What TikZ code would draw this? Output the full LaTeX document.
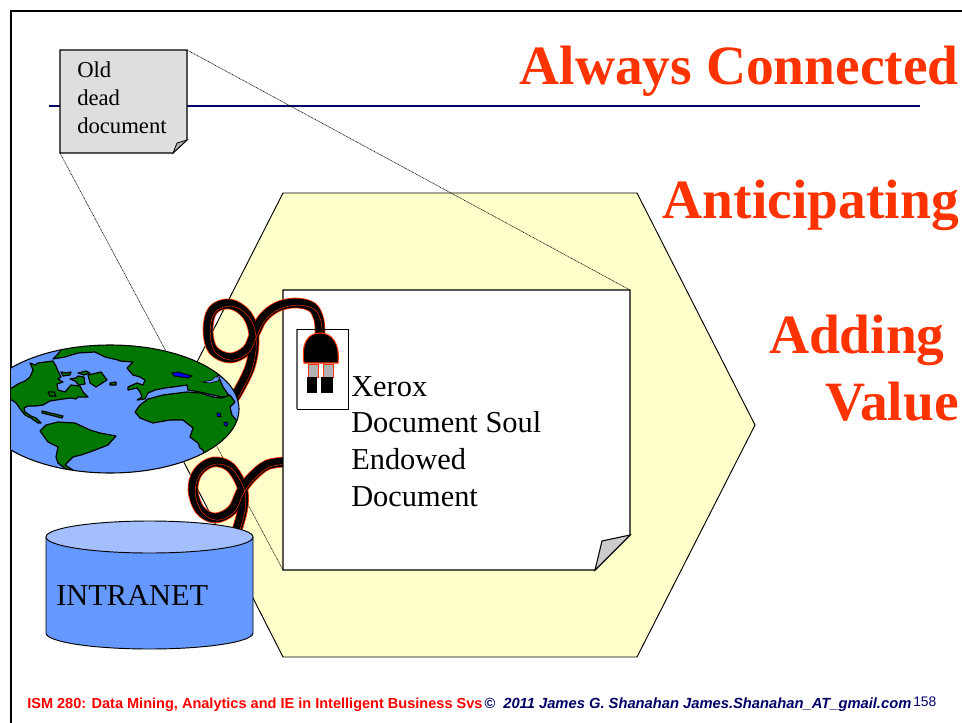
\documentclass[tikz,border=0pt]{standalone}
\usepackage{fontspec}
\setmainfont{Liberation Serif}
\newfontfamily\footfont{Liberation Sans}
\usetikzlibrary{positioning, calc}
\definecolor{hexfill}{HTML}{FFFFCC}
\definecolor{seablue}{HTML}{6699FF}
\definecolor{landgreen}{HTML}{007700}
\definecolor{lakeblue}{HTML}{0000EE}
\definecolor{cyltop}{HTML}{A3BFFF}
\definecolor{titlered}{HTML}{FF3300}
\definecolor{navyline}{HTML}{000066}
\tikzset{title/.style={font=\bfseries\fontsize{41.6}{46}\selectfont,text=titlered,inner sep=0pt},
         body/.style={font=\fontsize{22.8}{27.7}\selectfont,align=left,inner sep=0pt,text=black},
         oldtext/.style={font=\fontsize{17}{21}\selectfont,align=left,inner sep=0pt,text=black},
         foot/.style={font=\footfont\bfseries\fontsize{10.9}{13}\selectfont,inner sep=0pt},
         paper/.style={draw=black,line width=0.8pt,line join=miter},
         sight/.style={draw=black,line width=0.45pt,dash pattern=on 0.7pt off 0.5pt},
         land/.style={fill=landgreen,draw=black,line width=0.9pt,line join=round},
         lake/.style={fill=lakeblue,draw=black,line width=0.7pt},
         wire/.style={line cap=round,line join=round}}
% power cable: orange rim, black core, thin orange seam
\newcommand{\cablepath}[1]{%
  \draw[wire,titlered,line width=8pt] plot[smooth,tension=0.6] coordinates {#1};
  \draw[wire,black,line width=6.8pt] plot[smooth,tension=0.6] coordinates {#1};
  \draw[wire,titlered,line width=0.35pt,shift={(2.2,2.2)}] plot[smooth,tension=0.6] coordinates {#1};
}
\begin{document}
\begin{tikzpicture}[x=0.75pt,y=-0.75pt]
    \useasboundingbox (0,0) rectangle (962,723);
    % Slide frame and rule under the title
    \coordinate (framebl) at (11,723);
    \coordinate (frametl) at (11,11);
    \coordinate (frametr) at (962,11);
    \draw[black,line width=1.9pt] (framebl) -- (frametl) -- (frametr);
    \coordinate (ruleL) at (49,106);
    \coordinate (ruleR) at (920,106);
    \draw[navyline,line width=1.2pt] (ruleL) -- (ruleR);
    % Hexagon
    \draw[fill=hexfill,line width=0.7pt] (283,193) -- (637,193) -- (755,425) -- (637,657) -- (283,657) -- (165,425) -- cycle;
    % Corners of both documents
    \coordinate (oldtl) at (60,50);
    \coordinate (oldtr) at (187,50);
    \coordinate (oldbl) at (60,153);
    \coordinate (doctl) at (283,290);
    \coordinate (doctr) at (630,290);
    \coordinate (docbl) at (283,570);
    % Lines of sight
    \draw[sight] (oldtr) -- (doctr);
    \draw[sight] (oldbl) -- (docbl);
    % Lower cable, runs behind the document
    \cablepath{(237,530) (243,507) (242,487) (230,467) (213,462) (198,472) (193,490) (200,510) (215,518) (232,510) (242,490) (252,477) (267,465) (285,462)}
    % Document
    \draw[paper,fill=white] (doctl) -- (doctr) -- (630,535) -- (595,570) -- (docbl) -- cycle;
    \draw[paper,fill=black!20] (630,535) -- (602,541) -- (595,570) -- cycle;
    % Upper cable
    \cablepath{(235,397) (250,367) (254,337) (247,315) (230,304) (213,310) (208,330) (213,350) (230,358) (247,350) (255,333) (263,318) (277,307) (295,303) (312,307) (319,320) (320,335)}
    % Plug
    \draw[draw=black!60,line width=0.9pt] (297,329) -- (297,409);
    \draw[black,line width=0.5pt] (297,409) -- (348,409) -- (348,329) -- (297,329);
    \draw[fill=black!30,draw=titlered,line width=0.7pt] (308,364) rectangle (318,377);
    \draw[fill=black!30,draw=titlered,line width=0.7pt] (323,364) rectangle (333,377);
    \fill[black] (307,377) rectangle (317,393);
    \fill[black] (321,377) rectangle (333,393);
    \draw[fill=black,draw=titlered,line width=0.8pt] (304,363) .. controls (301,343) and (308,333) .. (320,333) .. controls (332,333) and (340,343) .. (338,363) -- cycle;
    % Globe
    \begin{scope}
      \clip (11,300) rectangle (300,500);
      \begin{scope}
        \clip (110,409) ellipse [x radius=129, y radius=64];
        \fill[seablue] (-30,340) rectangle (245,480);
        % Arctic, Europe and Asia
        \draw[land] (53,359) -- (58,354) -- (62,348) -- (60,335) -- (235,335) -- (225,370) -- (217,376) -- (220,380) -- (223,387) -- (230,397) -- (222,397) -- (213,395) -- (200,392) -- (188,390) -- (187,385) -- (173,387) -- (165,388) -- (155,390) -- (148,393) -- (145,399) -- (137,400) -- (142,397) -- (140,392) -- (137,388) -- (128,390) -- (128,387) -- (137,383) -- (143,385) -- (145,380) -- (140,377) -- (133,375) -- (127,368) -- (133,362) -- (120,361) -- (118,360) -- (105,357) -- (95,352) -- (78,353) -- (65,357) -- cycle;
        \draw[fill=seablue,draw=black,line width=0.5pt] (202,382) -- (212,380) -- (215,377) -- (220,377) -- (218,381) -- (210,383) -- cycle;
        % Africa
        \draw[land] (135,412) -- (140,405) -- (148,399) -- (163,395) -- (187,392) -- (200,393) -- (213,397) -- (222,398) -- (230,395) -- (235,402) -- (230,407) -- (232,415) -- (237,421) -- (245,440) -- (210,470) -- (203,450) -- (200,448) -- (198,443) -- (190,437) -- (193,428) -- (183,420) -- (170,420) -- (153,423) -- (140,418) -- cycle;
        % North America
        \draw[land] (0,380) -- (12,388) -- (18,384) -- (25,381) -- (30,377) -- (33,370) -- (30,363) -- (35,365) -- (38,363) -- (45,362) -- (53,361) -- (56,366) -- (58,371) -- (61,377) -- (58,379) -- (63,382) -- (57,384) -- (58,390) -- (65,392) -- (71,385) -- (80,386) -- (83,392) -- (88,397) -- (78,397) -- (76,399) -- (71,398) -- (63,399) -- (50,401) -- (43,405) -- (36,406) -- (28,406) -- (24,408) -- (25,412) -- (31,416) -- (36,418) -- (41,423) -- (38,423) -- (31,418) -- (25,415) -- (21,410) -- (16,403) -- (12,400) -- (0,400) -- cycle;
        % South America
        \draw[land] (40,431) -- (46,425) -- (58,422) -- (75,423) -- (90,430) -- (100,433) -- (116,436) -- (108,445) -- (90,452) -- (81,455) -- (73,457) -- (65,465) -- (73,470) -- (66,469) -- (58,463) -- (56,457) -- (58,447) -- (48,442) -- cycle;
        % Islands
        \draw[land] (88,375) -- (101,372) -- (107,380) -- (96,387) -- (90,383) -- cycle;
        \draw[land] (110,383) -- (116,382) -- (116,385) -- (110,385) -- cycle;
        \draw[land] (42,411) -- (63,416) -- (62,418) -- (42,413) -- cycle;
        \draw[land] (61,372) -- (66,373) -- (71,372) -- (70,375) -- (63,376) -- cycle;
        \draw[land] (70,379) -- (76,378) -- (78,376) -- (84,377) -- (85,384) -- (79,385) -- (75,381) -- cycle;
        \draw[land] (78,373) -- (86,371) -- (90,373) -- (84,375) -- cycle;
        \draw[land] (48,392) -- (54,392) -- (56,396) -- (50,396) -- cycle;
        % Lakes
        \draw[lake] (172,373) -- (178,372) -- (192,376) -- (188,378) -- (174,376) -- cycle;
        \draw[lake] (217,413) -- (220,413) -- (221,417) -- (217,416) -- cycle;
        \draw[lake] (224,422) -- (228,423) -- (227,426) -- (224,425) -- cycle;
      \end{scope}
      \draw[black,line width=0.8pt] (110,409) ellipse [x radius=129, y radius=64];
    \end{scope}
    % Intranet cylinder
    \draw[fill=seablue,line width=0.7pt] (46,537) -- (46,633) arc [start angle=180, end angle=360, x radius=103.5, y radius=-16] -- (253,537) -- cycle;
    \draw[fill=cyltop,line width=0.7pt] (149.5,537) ellipse [x radius=103.5, y radius=16];
    % Old document
    \draw[paper,fill=black!13] (oldtl) -- (oldtr) -- (187,140) -- (173,153) -- (oldbl) -- cycle;
    \draw[paper,fill=black!30,line width=0.6pt] (187,140) -- (177,143) -- (173,153) -- cycle;
    % Labels
    \node[title,anchor=base east] (always) at (959,85) {Always Connected};
    \node[title,anchor=base east] (anticipating) at (959,219) {Anticipating};
    \node[title,anchor=base east] (adding) at (945,353) {Adding};
    \node[title,anchor=base east] (value) at (959,420) {Value};
    \node[oldtext,anchor=base west] (oldl1) at (77,78) {Old};
    \node[oldtext,anchor=base west] (oldl2) at (77,106) {dead};
    \node[oldtext,anchor=base west] (oldl3) at (77,134) {document};
    \node[body,anchor=base west] (doc1) at (351,396) {Xerox};
    \node[body,anchor=base west] (doc2) at (351,432) {Document Soul};
    \node[body,anchor=base west] (doc3) at (351,469) {Endowed};
    \node[body,anchor=base west] (doc4) at (351,506) {Document};
    \node[body,anchor=base west] (intranet) at (56,605) {INTRANET};
    % Footer
    \node[foot,text=red,anchor=base west] (course) at (27,708) {ISM 280: Data Mining, Analytics and IE in Intelligent Business Svs};
    \node[foot,text=navyline,anchor=base west,font=\footfont\bfseries\itshape\fontsize{11.05}{13}\selectfont] (owner) at (484,708) {©\ \ 2011 James G. Shanahan James.Shanahan\_AT\_gmail.com};
    \node[anchor=base west,inner sep=0pt,text=navyline,font=\footfont\fontsize{10.4}{12}\selectfont] (pagenum) at (913,706) {158};
\end{tikzpicture}
\end{document}
